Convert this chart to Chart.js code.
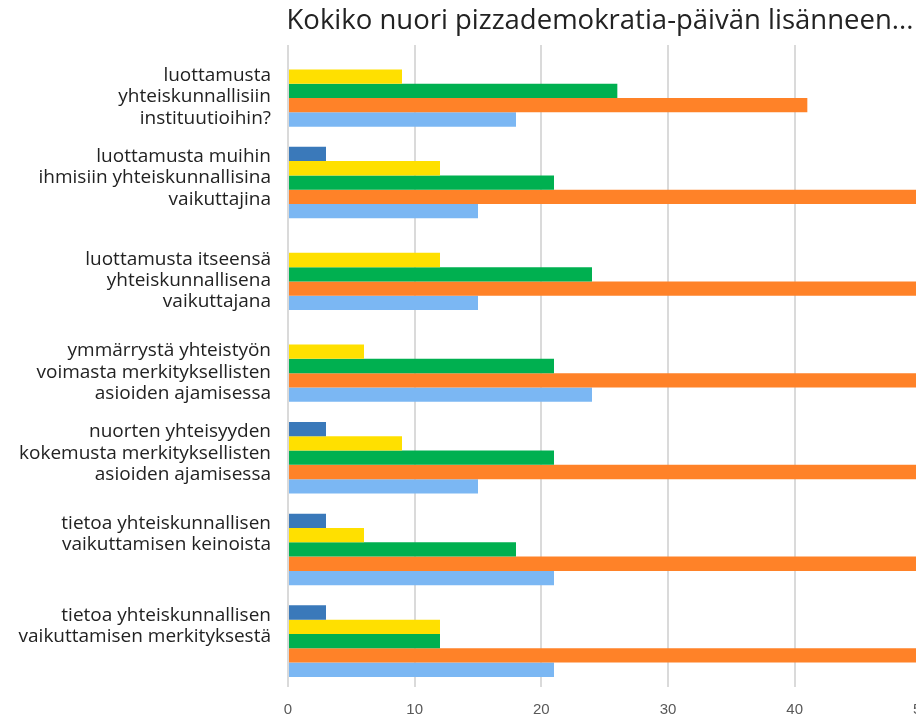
<!DOCTYPE html>
<html>
<head>
<meta charset="utf-8">
<script src="https://cdn.jsdelivr.net/npm/chart.js@4"></script>
<style>
    html, body { margin: 0; padding: 0; background: #fff; overflow: hidden; }
    #wrap { width: 1200px; height: 718px; position: relative; }
</style>
</head>
<body>
<div id="wrap"><canvas id="chart"></canvas></div>
<script>
const categories = [
    ["luottamusta", "yhteiskunnallisiin", "instituutioihin?"],
    ["luottamusta muihin", "ihmisiin yhteiskunnallisina", "vaikuttajina"],
    ["luottamusta itseensä", "yhteiskunnallisena", "vaikuttajana"],
    ["ymmärrystä yhteistyön", "voimasta merkityksellisten", "asioiden ajamisessa"],
    ["nuorten yhteisyyden", "kokemusta merkityksellisten", "asioiden ajamisessa"],
    ["tietoa yhteiskunnallisen", "vaikuttamisen keinoista"],
    ["tietoa yhteiskunnallisen", "vaikuttamisen merkityksestä"]
];

const seriesNames = ["Sarja 1", "Sarja 2", "Sarja 3", "Sarja 4", "Sarja 5"];
const darkBlue  = [0, 3, 0, 0, 3, 3, 3];
const yellow    = [9, 12, 12, 6, 9, 6, 12];
const green     = [26, 21, 24, 21, 21, 18, 12];
const orange    = [41, 55, 55, 55, 55, 55, 55];
const lightBlue = [18, 15, 15, 24, 15, 21, 21];

const xTicks = [0, 10, 20, 30, 40, 50, 60, 70];

const colors = ["#3A79BA", "#FFE000", "#00B050", "#FF8228", "#7BB7F3"];

// labels sit at the top of the first visible bar, so pad with blank lines
const labels = categories.map((lines, i) => {
    let out = lines.slice();
    if (!darkBlue[i]) out = [""].concat(out);
    if (out.length === 2) out.push("");
    return out;
});

const allSeries = [darkBlue, yellow, green, orange, lightBlue];

new Chart(document.getElementById("chart"), {
    type: "bar",
    data: {
        labels: labels,
        datasets: allSeries.map((vals, k) => ({
            label: seriesNames[k],
            data: vals,
            backgroundColor: colors[k],
            borderWidth: 0,
            barPercentage: 1,
            categoryPercentage: 0.78
        }))
    },
    options: {
        indexAxis: "y",
        responsive: true,
        maintainAspectRatio: false,
        animation: false,
        layout: { padding: 0 },
        plugins: {
            legend: { display: false },
            tooltip: { enabled: false },
            title: {
                display: true,
                text: "Kokiko nuori pizzademokratia-päivän lisänneen...",
                color: "#222",
                font: { family: "Open Sans", size: 27.5, weight: "normal", lineHeight: 1.2 },
                padding: { top: 5, bottom: 7 }
            }
        },
        scales: {
            x: {
                min: 0,
                max: 72,
                afterBuildTicks: (scale) => {
                    scale.ticks = xTicks.map(v => ({ value: v }));
                },
                afterFit: (scale) => { scale.height = 31; },
                grid: { color: "#dadada", lineWidth: 2, drawTicks: false },
                border: { display: false },
                ticks: {
                    color: "#595959",
                    padding: 14,
                    font: { family: "Liberation Sans", size: 15 }
                }
            },
            y: {
                afterFit: (scale) => {
                    scale.width = 288;
                    scale.paddingTop = 0;
                    scale.paddingBottom = 0;
                },
                grid: { display: false, drawTicks: false },
                border: { display: false },
                ticks: {
                    color: "#222",
                    padding: 17,
                    labelOffset: -4.5,
                    font: { family: "Open Sans", size: 19, lineHeight: 1.12 }
                }
            }
        }
    }
});
</script>
</body>
</html>
